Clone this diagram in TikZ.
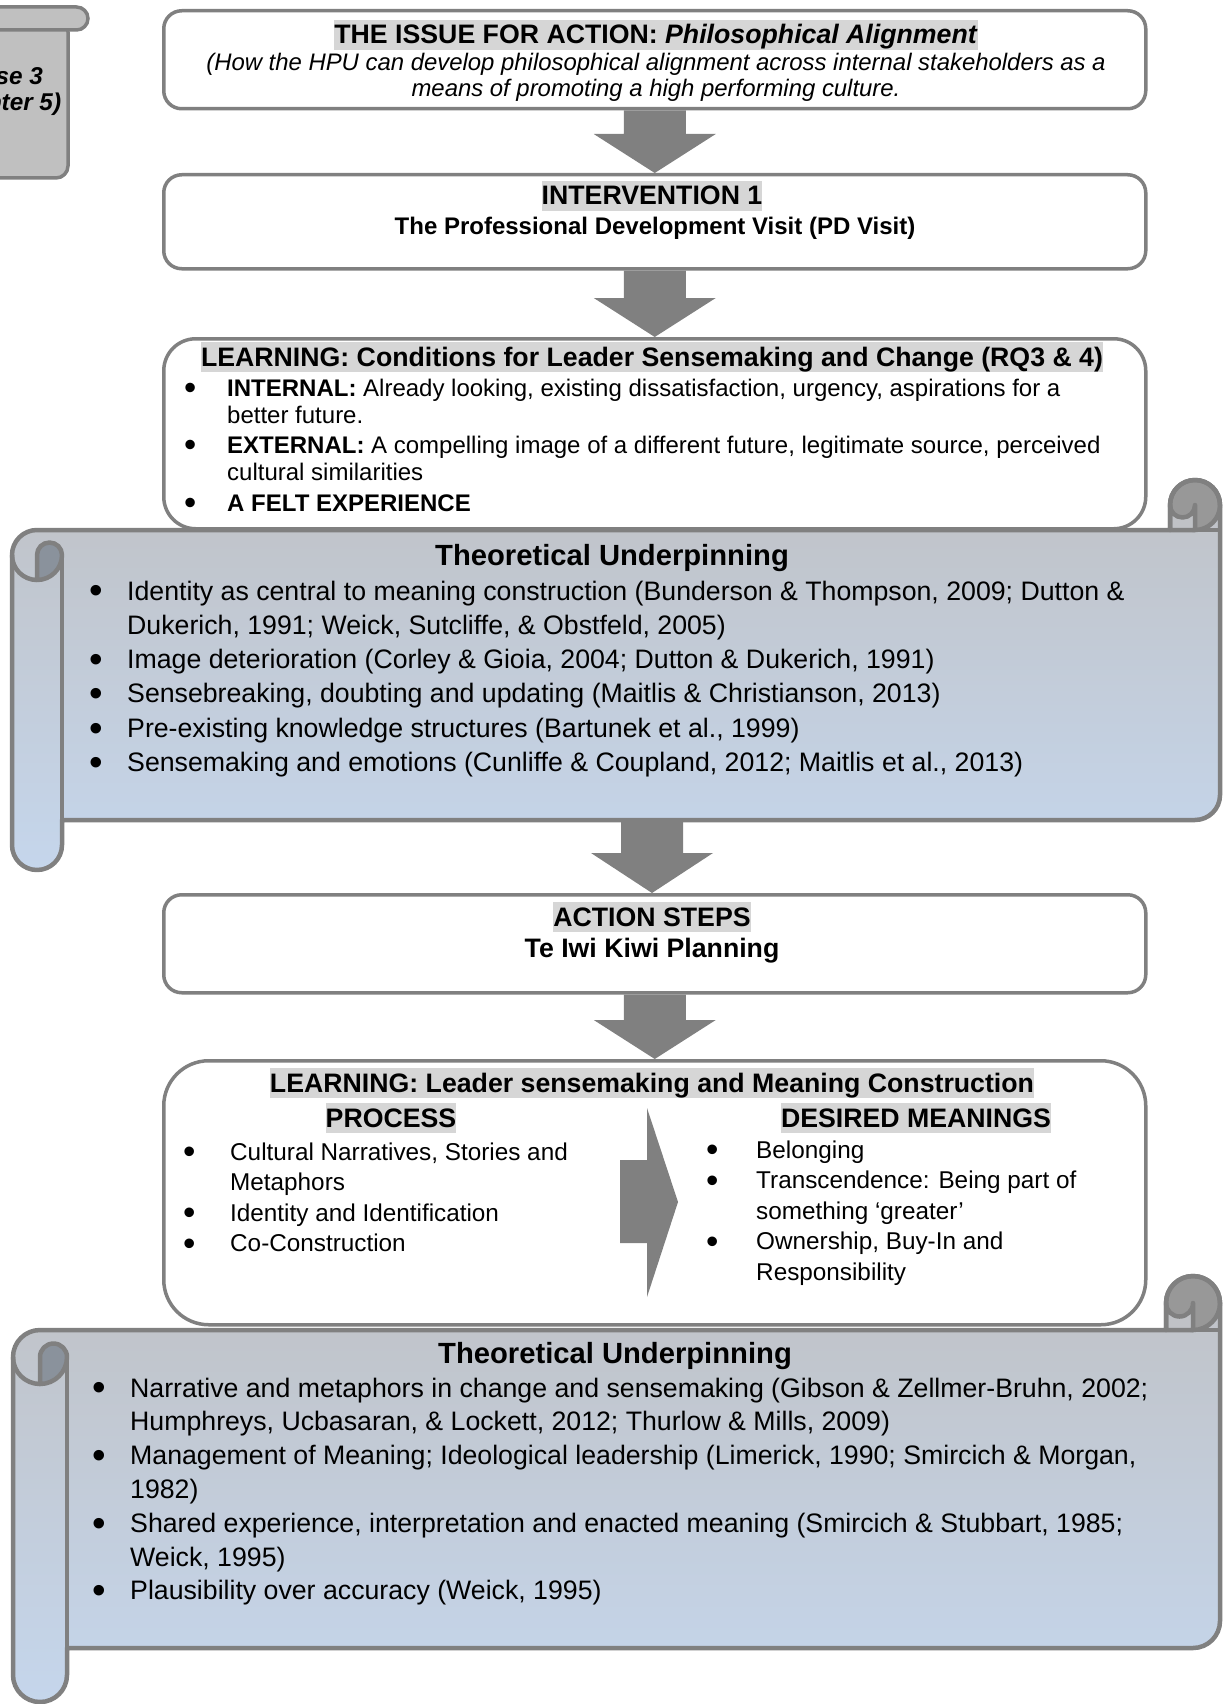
\documentclass[tikz,border=0pt]{standalone}
\usepackage{fontspec}
\setmainfont{Liberation Sans}
\usetikzlibrary{calc}

\definecolor{edgegray}{RGB}{128,128,128}
\definecolor{arrowgray}{RGB}{128,128,128}
\definecolor{hlgray}{RGB}{214,214,214}
\definecolor{scrolltop}{RGB}{192,194,198}
\definecolor{scrollmid}{RGB}{178,197,224}
\definecolor{scrollbot}{RGB}{197,214,236}
\definecolor{curldark}{RGB}{152,152,152}
\definecolor{curlinner}{RGB}{138,146,156}
\definecolor{tabgray}{RGB}{192,192,192}

% highlighted heading text
\newcommand\hl[1]{{\setlength{\fboxsep}{0pt}\colorbox{hlgray}{\rule[-0.22em]{0pt}{1.13em}#1}}}
% list bullet, centred on the column start
\newcommand\bul{\makebox[0pt]{\raisebox{-0.145em}{\scalebox{1.45}{\textbullet}}}}
\newcommand\fsA{\fontsize{23.9pt}{27pt}\selectfont}
\newcommand\fsB{\fontsize{26.7pt}{30pt}\selectfont}
\newcommand\fsC{\fontsize{29.2pt}{34pt}\selectfont}

% block arrow pointing down from one named point to another
\newcommand\flowarrow[3]{%
  \fill[arrowgray] let \p1=(#1), \p2=(#2) in
    ({\x1-31pt},\y1) -- ({\x1+31pt},\y1) -- ({\x1+31pt},{\y2+#3}) --
    ({\x1+61pt},{\y2+#3}) -- (\x1,\y2) -- ({\x1-61pt},{\y2+#3}) --
    ({\x1-31pt},{\y2+#3}) -- cycle;}

% scroll banner: #1 roll outer left, #2 body top, #3 right edge, #4 body bottom, #5 roll radius
\newcommand\tuscroll[5]{%
  \path[top color=scrolltop, middle color=scrollmid, bottom color=scrollbot]
    (#1,{#2+#5}) arc[start angle=180, end angle=270, radius=#5]
    -- ({#3-2*#5},#2) -- ({#3-2*#5},{#2-#5})
    arc[start angle=180, end angle=360, radius=#5]
    -- (#3,{#4-#5}) arc[start angle=0, end angle=90, radius=#5]
    -- ({#1+2*#5},#4) -- ({#1+2*#5},{#4+#5})
    arc[start angle=0, end angle=180, radius=#5] -- cycle;
  \draw[scrollline, fill=curldark] ({#3-#5},{#2-#5}) circle[radius=#5];
  \draw[scrollline, fill=scrolltop] ({#3-2*#5},#2) -- ({#3-2*#5},{#2-#5})
    arc[start angle=180, end angle=0, radius=#5/2] -- ({#3-#5},#2) -- cycle;
  \draw[scrollline] ({#3-#5},#2) -- (#3,#2);
  \draw[scrollline, fill=curlinner] ({#1+#5},{#2+2*#5}) -- ({#1+#5},{#2+#5})
    arc[start angle=180, end angle=360, radius=#5/2]
    arc[start angle=0, end angle=90, radius=#5] -- cycle;
  \draw[scrollline] (#1,{#2+#5}) arc[start angle=180, end angle=90, radius=#5];
  \draw[scrollline] ({#1+2*#5},{#2+#5}) -- ({#1+2*#5},#4);
  \draw[scrollline]
    (#1,{#2+#5}) arc[start angle=180, end angle=270, radius=#5]
    -- ({#3-2*#5},#2) -- ({#3-2*#5},{#2-#5})
    arc[start angle=180, end angle=360, radius=#5]
    -- (#3,{#4-#5}) arc[start angle=0, end angle=90, radius=#5]
    -- ({#1+2*#5},#4) -- ({#1+2*#5},{#4+#5})
    arc[start angle=0, end angle=180, radius=#5] -- cycle;}

\begin{document}
\begin{tikzpicture}[x=1pt, y=-1pt,
  panel/.style={draw=edgegray, line width=3.5pt, fill=white, anchor=north west,
    inner sep=0pt, minimum width=982pt},
  scrollline/.style={draw=edgegray, line width=4.5pt, line join=round},
  txt/.style={anchor=base, inner sep=0pt, text=black},
  lst/.style={anchor=base west, inner sep=0pt, text=black}]
\useasboundingbox (0,0) rectangle (1230,1704);
\begin{scope}
\clip (0,0) rectangle (1230,1704);

% phase tab in the corner
\draw[edgegray, line width=3.5pt, fill=tabgray, rounded corners=12pt]
  (-60,20) -- (68,20) -- (68,178) -- (-60,178) -- cycle;
\draw[edgegray, line width=3.5pt, fill=tabgray, rounded corners=11.5pt]
  (-60,7) rectangle (88,30);
\node[txt, font=\fontsize{24.3pt}{27pt}\selectfont\bfseries\itshape] (phase) at (-3,85) {Phase 3};
\node[txt, font=\fontsize{24.3pt}{27pt}\selectfont\bfseries\itshape] (chapter) at (-3,111) {(Chapter 5)};

% issue
\node[panel, rounded corners=18pt, minimum height=98pt] (issue) at (162,9) {};
\node[txt, font=\fsB\bfseries] (issuetitle) at (656,44)
  {\hl{THE ISSUE FOR ACTION: \textit{Philosophical Alignment}}};
\node[txt, font=\fsA\itshape] (issueA) at (656,71)
  {(How the HPU can develop philosophical alignment across internal stakeholders as a};
\node[txt, font=\fsA\itshape] (issueB) at (656,97)
  {means of promoting a high performing culture.};

% intervention
\node[panel, rounded corners=18pt, minimum height=94pt] (interv) at (162,173) {};
\node[txt, font=\fsB\bfseries] (intervtitle) at (652,205) {\hl{INTERVENTION 1}};
\node[txt, font=\fontsize{24pt}{27pt}\selectfont\bfseries] (intervsub) at (655,235)
  {The Professional Development Visit (PD Visit)};

% learning: conditions
\node[panel, rounded corners=32pt, minimum height=190pt] (learnA) at (162,337) {};
\node[txt, font=\fsB\bfseries] (learnAtitle) at (652,366)
  {\hl{LEARNING: Conditions for Leader Sensemaking and Change (RQ3 \& 4)}};
\node[lst, font=\fontsize{24pt}{27.5pt}\selectfont] (learnAlist) at (190,396)
  {\begin{tabular}[t]{@{}p{37pt}@{}l@{}}
   \bul & \textbf{INTERNAL:} Already looking, existing dissatisfaction, urgency, aspirations for a\\
        & better future.\\[2pt]
   \bul & \textbf{EXTERNAL:} A compelling image of a different future, legitimate source, perceived\\
        & cultural similarities\\[3pt]
   \bul & \textbf{A FELT EXPERIENCE}
   \end{tabular}};

% theory 1
\tuscroll{12}{530}{1220}{820}{25}
\node[txt, font=\fsC\bfseries] (tuAtitle) at (612,565) {Theoretical Underpinning};
\node[lst, font=\fontsize{26.7pt}{34.3pt}\selectfont] (tuAlist) at (96,600)
  {\begin{tabular}[t]{@{}p{31pt}@{}l@{}}
   \bul & Identity as central to meaning construction (Bunderson \& Thompson, 2009; Dutton \&\\
        & Dukerich, 1991; Weick, Sutcliffe, \& Obstfeld, 2005)\\
   \bul & Image deterioration (Corley \& Gioia, 2004; Dutton \& Dukerich, 1991)\\
   \bul & Sensebreaking, doubting and updating (Maitlis \& Christianson, 2013)\\
   \bul & Pre-existing knowledge structures (Bartunek et al., 1999)\\
   \bul & Sensemaking and emotions (Cunliffe \& Coupland, 2012; Maitlis et al., 2013)
   \end{tabular}};
\coordinate (tuAbottom) at (652,821);

% action steps
\node[panel, rounded corners=18pt, minimum height=98pt] (action) at (162,893) {};
\node[txt, font=\fsB\bfseries] (actiontitle) at (652,926) {\hl{ACTION STEPS}};
\node[txt, font=\fsB\bfseries] (actionsub) at (652,957) {Te Iwi Kiwi Planning};

% learning: meaning construction
\node[panel, rounded corners=45pt, minimum height=264pt] (learnB) at (162,1059) {};
\node[txt, font=\fsB\bfseries] (learnBtitle) at (652,1092)
  {\hl{LEARNING: Leader sensemaking and Meaning Construction}};
\node[txt, font=\fsB\bfseries] (process) at (391,1127) {\hl{PROCESS}};
\node[txt, font=\fsB\bfseries] (meanings) at (916,1127) {\hl{DESIRED MEANINGS}};
\node[lst, font=\fontsize{24.3pt}{30.5pt}\selectfont] (processlist) at (189,1160)
  {\begin{tabular}[t]{@{}p{41pt}@{}l@{}}
   \bul & Cultural Narratives, Stories and\\
        & Metaphors\\
   \bul & Identity and Identification\\
   \bul & Co-Construction
   \end{tabular}};
\node[lst, font=\fontsize{24.3pt}{30.5pt}\selectfont] (meaninglist) at (712,1158)
  {\begin{tabular}[t]{@{}p{44pt}@{}l@{}}
   \bul & Belonging\\
   \bul & Transcendence: Being part of\\
        & something ‘greater’\\
   \bul & Ownership, Buy-In and\\
        & Responsibility
   \end{tabular}};
\fill[arrowgray] (620,1160) -- (647,1160) -- (647,1108) -- (678,1202)
  -- (647,1297) -- (647,1243) -- (620,1243) -- cycle;

% theory 2
\tuscroll{13}{1330}{1220}{1648}{27}
\node[txt, font=\fsC\bfseries] (tuBtitle) at (615,1363) {Theoretical Underpinning};
\node[lst, font=\fontsize{26.7pt}{33.8pt}\selectfont] (tuBlist) at (99,1397)
  {\begin{tabular}[t]{@{}p{31pt}@{}l@{}}
   \bul & Narrative and metaphors in change and sensemaking (Gibson \& Zellmer-Bruhn, 2002;\\
        & Humphreys, Ucbasaran, \& Lockett, 2012; Thurlow \& Mills, 2009)\\
   \bul & Management of Meaning; Ideological leadership (Limerick, 1990; Smircich \& Morgan,\\
        & 1982)\\
   \bul & Shared experience, interpretation and enacted meaning (Smircich \& Stubbart, 1985;\\
        & Weick, 1995)\\
   \bul & Plausibility over accuracy (Weick, 1995)
   \end{tabular}};

% flow arrows
\flowarrow{issue.south}{interv.north}{39pt}
\flowarrow{interv.south}{learnA.north}{39pt}
\flowarrow{tuAbottom}{action.north}{40pt}
\flowarrow{action.south}{learnB.north}{39pt}
\end{scope}
\end{tikzpicture}
\end{document}
